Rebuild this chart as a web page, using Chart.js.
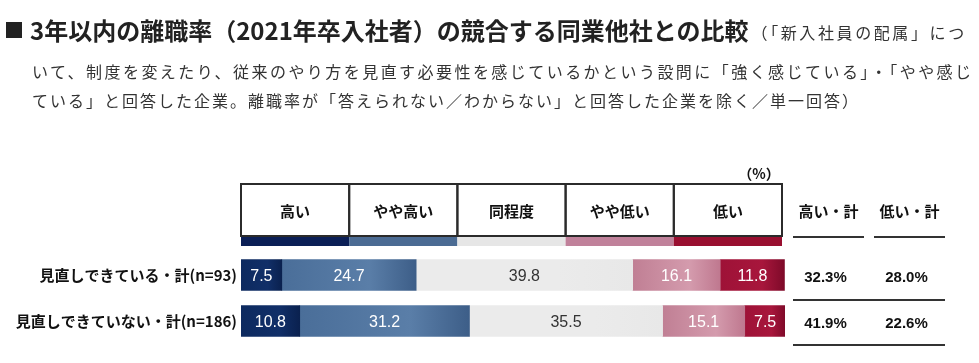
<!DOCTYPE html>
<html lang="ja">
<head>
<meta charset="utf-8">
<script src="https://cdn.jsdelivr.net/npm/chart.js@4.4.1/dist/chart.umd.min.js"></script>
<style>
  html, body { margin: 0; padding: 0; background: #fff; }
  body { width: 979px; height: 363px; position: relative; overflow: hidden;
         font-family: "Noto Sans CJK JP", "Noto Sans", sans-serif; color: #222; }
  #wrap { position: absolute; left: 0; top: 0; width: 979px; height: 363px; }
  .title { position: absolute; left: 4px; top: 12px; white-space: nowrap; }
  .title .sq { font-size: 20px; font-weight: bold; margin-right: 6px; vertical-align: 2px; }
  .title .main { font-size: 24px; font-weight: bold; color: #222; }
  .title .sub { font-size: 16px; letter-spacing: 2.6px; color: #333; margin-left: 3px; vertical-align: 1px; }
  .note { position: absolute; left: 32px; font-size: 16px; letter-spacing: 2px; color: #333; white-space: nowrap; }
</style>
</head>
<body>
<div id="wrap"><canvas id="chart" width="979" height="363"></canvas></div>
<div class="title"><span class="sq">■</span><span class="main">3年以内の離職率（2021年卒入社者）の競合する同業他社との比較</span><span class="sub">（「新入社員の配属」につ</span></div>
<div class="note" style="top:59px; letter-spacing:2.45px">いて、制度を変えたり、従来のやり方を見直す必要性を感じているかという設問に「強く感じている」・「やや感じ</div>
<div class="note" style="top:88px">ている」と回答した企業。離職率が「答えられない／わからない」と回答した企業を除く／単一回答）</div>

<script>
// Data
const groups = ['見直しできている・計(n=93)', '見直しできていない・計(n=186)'];
const seriesNames = ['高い', 'やや高い', '同程度', 'やや低い', '低い'];
const high = [7.5, 10.8];
const somewhatHigh = [24.7, 31.2];
const same = [39.8, 35.5];
const somewhatLow = [16.1, 15.1];
const low = [11.8, 7.5];
const highTotal = ['32.3%', '41.9%'];
const lowTotal = ['28.0%', '22.6%'];
const totalHeaders = ['高い・計', '低い・計'];

// Colours: [left, middle, right] for the light-in-the-middle shading
const segColors = [
    ['#0d2a5f', '#112f68', '#0a214f'],
    ['#4a6e99', '#5a7ea8', '#3d5e88'],
    ['#ebebeb', '#ebebeb', '#e8e8e8'],
    ['#c07f94', '#d49bad', '#bf788f'],
    ['#9e1237', '#a8163c', '#7e0a29']
];
const stripColors = ['#0b1f56', '#4b6b93', '#e6e6e6', '#c0819a', '#990f30'];
const labelColors = ['#fff', '#fff', '#333', '#fff', '#fff'];

const valueFont = '16px "Liberation Sans Narrow", "Liberation Sans", Arial, sans-serif';
const cjkBold = 'bold 15px "Noto Sans CJK JP", sans-serif';

function segmentFill(ctx) {
    const colors = segColors[ctx.datasetIndex];
    const chart = ctx.chart;
    const xs = chart.scales.x;
    if (ctx.type !== 'data' || !xs) return colors[0];
    let start = 0;
    for (let d = 0; d < ctx.datasetIndex; d++) start += chart.data.datasets[d].data[ctx.dataIndex];
    const x0 = xs.getPixelForValue(start);
    const x1 = xs.getPixelForValue(start + ctx.raw);
    if (!isFinite(x0) || !isFinite(x1) || x1 - x0 < 1) return colors[0];
    const g = chart.ctx.createLinearGradient(x0, 0, x1, 0);
    g.addColorStop(0, colors[0]);
    g.addColorStop(0.65, colors[1]);
    g.addColorStop(1, colors[2]);
    return g;
}

// Header boxes above the bars, strip of colours, and the totals columns
const tablePlugin = {
    id: 'tablePlugin',
    afterDraw(chart) {
        const c = chart.ctx;
        const left = chart.chartArea.left;
        const boxW = 108.2;
        const top = 184, bottom = 236;
        c.save();
        // colour strip
        seriesNames.forEach((name, i) => {
            c.fillStyle = stripColors[i];
            c.fillRect(left + i * boxW, bottom, boxW, 10);
        });
        // boxes
        c.strokeStyle = '#2b2b2b';
        c.lineWidth = 2;
        seriesNames.forEach((name, i) => {
            c.strokeRect(left + i * boxW, top, boxW, bottom - top);
        });
        c.fillStyle = '#111';
        c.font = cjkBold;
        c.textAlign = 'center';
        c.textBaseline = 'middle';
        seriesNames.forEach((name, i) => {
            c.fillText(name, left + i * boxW + boxW / 2, 211);
        });
        c.font = 'bold 14px "Noto Sans CJK JP", sans-serif';
        c.fillText('（%）', 759, 174);

        // totals columns
        const cols = [{ x0: 793, x1: 864 }, { x0: 874, x1: 945 }];
        c.font = cjkBold;
        totalHeaders.forEach((t, i) => {
            c.fillText(t, (cols[i].x0 + cols[i].x1) / 2, 211);
        });
        c.strokeStyle = '#333';
        c.lineWidth = 2;
        c.beginPath();
        cols.forEach(col => { c.moveTo(col.x0, 237); c.lineTo(col.x1, 237); });
        c.moveTo(793, 300); c.lineTo(945, 300);
        c.moveTo(793, 345); c.lineTo(945, 345);
        c.stroke();

        const ys = chart.scales.y;
        c.font = 'bold 15px "Liberation Sans Narrow", "Liberation Sans", Arial, sans-serif';
        c.fillStyle = '#111';
        groups.forEach((g, i) => {
            const y = ys.getPixelForValue(i) + 3;
            c.fillText(highTotal[i], (cols[0].x0 + cols[0].x1) / 2 - 3, y);
            c.fillText(lowTotal[i], (cols[1].x0 + cols[1].x1) / 2 - 3, y);
        });
        c.restore();
    }
};

// Value labels on each segment
const valueLabels = {
    id: 'valueLabels',
    afterDatasetsDraw(chart) {
        const c = chart.ctx;
        c.save();
        c.font = valueFont;
        c.textAlign = 'center';
        c.textBaseline = 'middle';
        chart.data.datasets.forEach((ds, di) => {
            chart.getDatasetMeta(di).data.forEach((bar, i) => {
                c.fillStyle = labelColors[di];
                c.fillText(ds.data[i].toFixed(1), (bar.x + bar.base) / 2, bar.y + 2);
            });
        });
        c.restore();
    }
};

const datasets = [high, somewhatHigh, same, somewhatLow, low].map((vals, i) => ({
    label: seriesNames[i],
    data: vals,
    backgroundColor: segmentFill,
    borderWidth: 0,
    barThickness: 31
}));

new Chart(document.getElementById('chart'), {
    type: 'bar',
    data: { labels: groups, datasets: datasets },
    options: {
        indexAxis: 'y',
        responsive: false,
        animation: false,
        layout: { padding: { top: 252, bottom: 19, left: 0, right: 194 } },
        plugins: {
            legend: { display: false },
            tooltip: { enabled: false }
        },
        scales: {
            x: {
                stacked: true,
                min: 0,
                max: 100,
                display: false
            },
            y: {
                stacked: true,
                grid: { display: false, drawTicks: false },
                border: { display: false },
                afterFit(scale) { scale.width = 241; },
                ticks: {
                    padding: 4,
                    color: '#111',
                    font: { family: '"Noto Sans CJK JP", sans-serif', size: 15, weight: 'bold' }
                }
            }
        }
    },
    plugins: [tablePlugin, valueLabels]
});
</script>
</body>
</html>
